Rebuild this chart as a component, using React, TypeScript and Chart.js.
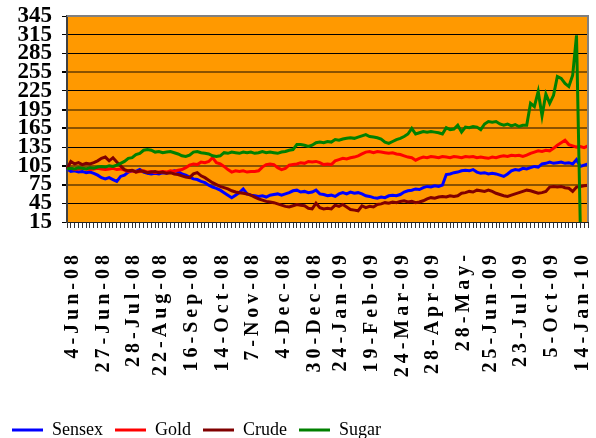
import React, { useEffect, useRef } from 'react';
import { Chart, registerables } from 'chart.js';

Chart.register(...registerables);

const tickLabels = ['4-Jun-08','27-Jun-08','28-Jul-08','22-Aug-08','16-Sep-08','14-Oct-08','7-Nov-08','4-Dec-08','30-Dec-08','24-Jan-09','19-Feb-09','24-Mar-09','28-Apr-09','28-May-','25-Jun-09','23-Jul-09','5-Oct-09','14-Jan-10'];
const tickIndices = [0,8,16,23,31,39,47,55,63,70,78,86,94,102,109,117,125,133];

const sensex = [100,96,97,95,96,94,95,93,90,86,
84,86,83,80,88,90,95,97,96,99,
95,93,92,93,92,94,93,95,97,96,
92,90,87,84,83,80,78,74,71,69,
66,62,58,54,58,62,68,60,58,57,
56,57,55,58,59,60,58,60,62,65,
66,63,64,62,63,66,60,59,57,58,
56,60,62,60,63,61,62,60,57,56,
54,53,55,54,57,58,57,59,63,65,
66,68,67,70,72,71,73,72,74,91,
92,94,95,97,98,97,99,95,93,94,
92,93,92,90,88,92,97,99,98,101,
100,102,104,103,108,109,111,109,110,111,
109,110,108,115,104,106,108];

const gold = [100,101,99,100,101,100,99,100,101,100,
99,100,101,99,100,98,96,97,95,96,
97,95,96,94,95,96,95,97,96,98,
99,102,106,108,107,111,110,112,118,110,
108,104,99,95,97,96,97,95,96,96,
97,103,107,108,107,102,99,101,106,107,
108,110,109,112,111,112,110,107,108,107,
113,115,117,116,118,119,121,124,127,128,
126,128,127,126,125,126,124,123,121,119,
118,114,117,119,118,120,119,118,120,119,
118,120,119,118,120,119,120,118,119,118,
117,119,118,120,121,120,122,121,122,120,
122,125,127,129,128,130,129,133,138,142,
146,139,137,135,136,134,137];

const crude = [100,112,108,110,107,109,108,110,113,117,
119,113,118,111,105,99,97,98,95,97,
96,94,95,96,94,95,93,94,92,91,
89,87,86,92,94,89,86,82,78,75,
72,70,68,65,63,62,61,60,58,55,
52,50,48,47,46,44,42,40,39,41,
43,42,41,37,36,45,38,36,37,36,
42,40,43,39,35,34,33,41,38,40,
39,43,44,46,45,47,46,48,49,47,
48,46,47,49,52,54,53,55,56,55,
57,56,57,61,62,64,63,66,65,64,
66,64,61,59,57,56,58,60,62,64,
66,65,63,61,62,64,71,72,71,72,
70,69,64,71,72,73,74];

const sugar = [100,101,100,102,101,100,102,101,103,104,
103,105,104,106,109,112,117,118,123,125,
130,131,130,127,128,126,127,128,126,124,
121,120,122,127,128,126,125,124,121,120,
121,126,125,127,126,125,127,126,127,125,
126,128,126,127,126,125,127,128,130,131,
139,139,138,136,138,142,143,142,144,143,
147,146,148,149,150,149,151,153,155,152,
151,150,148,143,141,144,147,149,152,156,
165,156,158,160,159,160,159,158,156,166,
163,164,170,159,167,166,168,167,163,172,
176,175,176,172,170,172,169,171,168,170,
170,205,200,224,185,220,205,218,248,245,
237,232,250,314,5,null,null];

const yTicks = { min: 15, max: 345, step: 30 };

const categories = sensex.map((_, i) => {
  const j = tickIndices.indexOf(i);
  return j >= 0 ? tickLabels[j] : '';
});

const brownGridValues = [75, 105, 165, 195, 255];

const plotPlugin = {
  id: 'plotArea',
  beforeDraw(chart: any) {
    const { ctx, chartArea: a } = chart;
    ctx.save();
    ctx.fillStyle = '#FF9900';
    ctx.fillRect(a.left, a.top, a.right - a.left, a.bottom - a.top);
    ctx.restore();
    const xs = chart.scales.x;
    if (xs && !xs.__patched) {
      const orig = xs.drawLabels.bind(xs);
      xs.drawLabels = (area: any) => {
        const c = chart.ctx as any;
        c.save();
        c.letterSpacing = '4px';
        orig(area);
        c.restore();
      };
      xs.__patched = true;
    }
  },
  afterDraw(chart: any) {
    const { ctx, chartArea: a } = chart;
    ctx.save();
    ctx.strokeStyle = '#808080';
    ctx.lineWidth = 2;
    ctx.beginPath();
    ctx.moveTo(a.left, a.top);
    ctx.lineTo(a.right, a.top);
    ctx.lineTo(a.right, a.bottom);
    ctx.stroke();
    ctx.restore();
  },
};

export default function App() {
  const ref = useRef<HTMLCanvasElement>(null);
  useEffect(() => {
    if (!ref.current) return;
    const serif = 'Liberation Serif';
    const lw = 3;
    const chart = new Chart(ref.current, {
      type: 'line',
      data: {
        labels: categories,
        datasets: [
          { label: 'Sensex', data: sensex, borderColor: '#0000FF', backgroundColor: '#0000FF', borderWidth: lw, pointRadius: 0, tension: 0, order: 4 },
          { label: 'Gold', data: gold, borderColor: '#FF0000', backgroundColor: '#FF0000', borderWidth: lw, pointRadius: 0, tension: 0, order: 3 },
          { label: 'Crude', data: crude, borderColor: '#800000', backgroundColor: '#800000', borderWidth: lw, pointRadius: 0, tension: 0, order: 2 },
          { label: 'Sugar', data: sugar, borderColor: '#008000', backgroundColor: '#008000', borderWidth: lw, pointRadius: 0, tension: 0, order: 1 },
        ],
      },
      options: {
        responsive: false,
        animation: false,
        events: [],
        layout: { padding: { top: 16, right: 8, bottom: -11, left: 0 } },
        plugins: {
          tooltip: { enabled: false },
          legend: {
            position: 'bottom',
            align: 'start',
            labels: {
              boxWidth: 31,
              boxHeight: 3,
              padding: 12,
              color: '#000',
              font: { family: serif, size: 18 },
              generateLabels: (c: any) =>
                (Chart.defaults.plugins.legend.labels.generateLabels as any)(c)
                  .map((l: any) => ({ ...l, lineWidth: 0, fillStyle: l.strokeStyle }))
                  .sort((p: any, q: any) => p.datasetIndex - q.datasetIndex),
            },
          },
        },
        scales: {
          x: {
            type: 'category',
            grid: { drawOnChartArea: false, drawTicks: true, tickLength: 6, tickColor: '#333', tickWidth: 1 },
            border: { display: true, color: '#222', width: 1 },
            ticks: {
              autoSkip: false,
              minRotation: 90,
              maxRotation: 90,
              padding: 23,
              labelOffset: 6,
              color: '#000',
              font: { family: serif, size: 20, weight: 'bold' },
            },
            afterFit: (s: any) => { s.height = 187; s.paddingLeft = 0; s.paddingRight = 0; },
          },
          y: {
            min: yTicks.min,
            max: yTicks.max,
            ticks: { stepSize: yTicks.step, autoSkip: false, padding: 10, color: '#000', font: { family: serif, size: 23, weight: 'bold' } },
            grid: {
              color: (ctx: any) => (brownGridValues.includes(ctx.tick?.value) ? '#8a5200' : '#000'),
              lineWidth: (ctx: any) => (brownGridValues.includes(ctx.tick?.value) ? 2 : 1),
              tickLength: 5,
              tickColor: '#000',
            },
            border: { color: '#404040', width: 2 },
            afterFit: (s: any) => { s.width = 67; s.paddingTop = 0; s.paddingBottom = 0; },
          },
        },
      },
      plugins: [plotPlugin],
    } as any);
    return () => chart.destroy();
  }, []);
  return (
    <div style={{ position: 'absolute', left: 0, top: 0, width: 596, height: 438, background: '#fff' }}>
      <canvas ref={ref} width={596} height={438} style={{ display: 'block' }} />
    </div>
  );
}
